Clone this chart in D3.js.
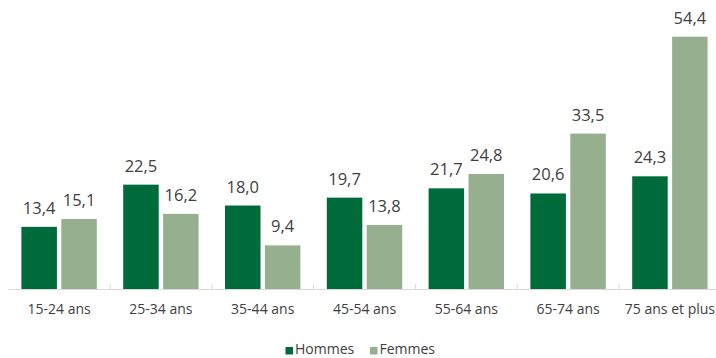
<!DOCTYPE html>
<html><head><meta charset="utf-8">
<script src="https://cdn.jsdelivr.net/npm/d3@7"></script>
<style>body{margin:0;background:#fff}svg{display:block}</style>
</head><body>
<svg id="c" width="716" height="358"></svg>
<script>
const categories = ["15-24 ans","25-34 ans","35-44 ans","45-54 ans","55-64 ans","65-74 ans","75 ans et plus"];
const hommes = [13.4,22.5,18.0,19.7,21.7,20.6,24.3];
const femmes = [15.1,16.2,9.4,13.8,24.8,33.5,54.4];
const seriesNames = ["Hommes","Femmes"];
const colors = ["#006B3A","#96B08F"];

const svg = d3.select("#c");
const font = "'Open Sans', sans-serif";
const x0 = d3.scaleBand().domain(categories).range([8.2, 720.8]).paddingInner(0).paddingOuter(0);
const x1 = d3.scaleBand().domain(seriesNames).range([13.2, x0.bandwidth()-13.2]).paddingInner(0.11);
const y = d3.scaleLinear().domain([0, 54.4]).range([289, 36.7]);

const fmt = v => d3.format(".1f")(v).replace(".", ",");

const data = categories.map((c,i)=>({c, vals:[hommes[i], femmes[i]]}));
const g = svg.selectAll("g.cat").data(data).join("g").attr("class","cat")
  .attr("transform", d=>`translate(${x0(d.c)},0)`);
g.selectAll("rect").data(d=>d.vals.map((v,j)=>({v,j}))).join("rect")
  .attr("x", d=>x1(seriesNames[d.j])).attr("width", x1.bandwidth())
  .attr("y", d=>y(d.v)).attr("height", d=>y(0)-y(d.v))
  .attr("fill", d=>colors[d.j]);
g.selectAll("text").data(d=>d.vals.map((v,j)=>({v,j}))).join("text")
  .attr("x", d=>x1(seriesNames[d.j])+x1.bandwidth()/2)
  .attr("y", d=>y(d.v)-13)
  .attr("text-anchor","middle").attr("font-family",font).attr("font-size",16.5)
  .attr("fill","#404040").text(d=>fmt(d.v));

// axis
const ax = svg.append("g").attr("transform","translate(0,289)")
  .call(d3.axisBottom(x0).tickSize(0).tickPadding(0));
ax.select(".domain").attr("stroke","#D9D9D9").attr("stroke-width",1);
ax.selectAll(".tick text").attr("dy",null).attr("y",25).attr("font-family",font).attr("font-size",14).attr("fill","#404040");
// category boundary ticks
ax.selectAll("line.b").data(categories.slice(1)).join("line").attr("class","b")
  .attr("x1",d=>x0(d)).attr("x2",d=>x0(d)).attr("y1",-5).attr("y2",0)
  .attr("stroke","#D9D9D9");

// legend
const lg = svg.append("g");
const items = [{n:"Hommes",x:285.5},{n:"Femmes",x:370}];
items.forEach((it,i)=>{
  lg.append("rect").attr("x",it.x).attr("y",347).attr("width",7.5).attr("height",7.5).attr("fill",colors[i]);
  lg.append("text").attr("x",it.x+9.5).attr("y",354).attr("font-family",font).attr("font-size",14)
    .attr("fill","#404040").text(it.n);
});
</script>
</body></html>
